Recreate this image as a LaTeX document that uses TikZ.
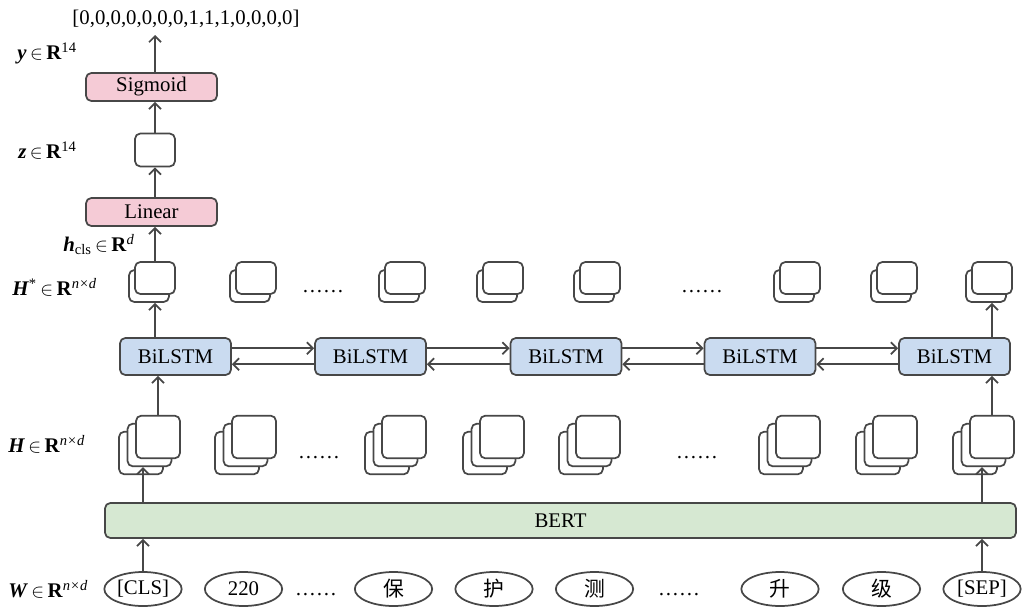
\documentclass[tikz,border=0pt]{standalone}
\usepackage{fontspec}
\setmainfont{Liberation Serif}
\newfontfamily\cjk{Noto Sans CJK SC}
\usetikzlibrary{arrows.meta,shapes.geometric,calc}
\definecolor{edgec}{HTML}{474747}
\definecolor{pinkc}{HTML}{F5CBD6}
\definecolor{bluec}{HTML}{CADBF0}
\definecolor{greenc}{HTML}{D6E8D2}
\newcommand{\vecin}{\,$\in$\,}
\begin{document}
\begin{tikzpicture}[x=0.75pt,y=-0.75pt,
  font=\fontsize{15.6}{18}\selectfont,
  line/.style={draw=edgec,line width=1.3pt},
  arr/.style={line,-{Straight Barb[length=4.5pt,width=9pt,line width=1.3pt]}},
  box/.style={line,rounded corners=4pt,inner sep=0pt,align=center},
  opbox/.style={box,fill=pinkc,minimum width=98.25pt,minimum height=21pt},
  lstm/.style={box,fill=bluec,minimum width=83.25pt,minimum height=27.75pt},
  cell/.style={box,fill=white,minimum width=30pt,minimum height=24pt},
  hcell/.style={box,fill=white,minimum width=33pt,minimum height=32pt},
  tok/.style={line,ellipse,inner sep=0pt,minimum width=58pt,minimum height=25.5pt},
  lab/.style={anchor=base west,inner sep=0pt},
  dots/.style={anchor=base,inner sep=0pt}]
\useasboundingbox (0,0) rectangle (1024,607);

% output head
\node[anchor=base,inner sep=0pt] (res) at (186,24) {[0,0,0,0,0,0,0,1,1,1,0,0,0,0]};
\coordinate (tip) at (155,35);
\node[opbox] (sig) at (151.5,87) {Sigmoid};
\node[box,fill=white,minimum width=30pt,minimum height=24.75pt] (z) at (155,150) {};
\node[opbox] (lin) at (151.5,212) {Linear};

% BiLSTM outputs H*
\foreach \i/\x in {1/155,2/256,3/405,4/503,5/600,6/800,7/897,8/992}{
  \node[cell] (hsb\i) at (\x-6,286) {};
  \node[cell] (hs\i) at (\x,278) {};
}
% BERT outputs H
\foreach \i/\x in {1/158,2/254,3/404,4/502,5/598,6/798,7/895,8/992}{
  \node[hcell] (hb\i) at (\x-17,453) {};
  \node[hcell] (hm\i) at (\x-8.5,445) {};
  \node[hcell] (h\i) at (\x,437) {};
}

% BiLSTM chain
\foreach \i/\x in {1/175.5,2/370.5,3/566,4/760,5/954.5}{
  \node[lstm] (b\i) at (\x,356.5) {BiLSTM};
}
\foreach \i/\j in {1/2,2/3,3/4,4/5}{
  \draw[arr] ([yshift=6.2pt]b\i.east) -- ([yshift=6.2pt]b\j.west);
  \draw[arr] ([yshift=-5.8pt]b\j.west) -- ([yshift=-5.8pt]b\i.east);
}

% BERT encoder
\node[box,fill=greenc,minimum width=683.25pt,minimum height=26.25pt] (bert) at (560.5,520.5) {BERT};

% input tokens
\node[tok] (cls) at (143,589) {[CLS]};
\node[tok] (t220) at (243.5,589) {220};
\node[tok] (bao) at (393.5,589) {\cjk 保};
\node[tok] (hu) at (494,589) {\cjk 护};
\node[tok] (ce) at (594.5,589) {\cjk 测};
\node[tok] (sheng) at (780,589) {\cjk 升};
\node[tok] (ji) at (881.5,589) {\cjk 级};
\node[tok] (sep) at (982,589) {[SEP]};

% ellipsis marks
\node[dots] (d1) at (316,595) {……};
\node[dots] (d2) at (679,595) {……};
\node[dots] (d3) at (319,458) {……};
\node[dots] (d4) at (697,458) {……};
\node[dots] (d5) at (323,292) {……};
\node[dots] (d6) at (702,292) {……};

% connectors
\draw[arr] (sig.north -| z) -- (tip);
\draw[arr] (z.north) -- (z.north |- sig.south);
\draw[arr] (lin.north -| z) -- (z.south);
\draw[arr] (hs1.north) -- (hs1.north |- lin.south);
\draw[arr] (b1.north -| hs1) -- (hs1 |- hsb1.south);
\draw[arr] (h1.north) -- (h1.north |- b1.south);
\draw[arr] (b5.north -| hs8) -- (hs8 |- hsb8.south);
\draw[arr] (h8.north) -- (h8.north |- b5.south);
\draw[arr] (cls.north) -- (cls.north |- bert.south);
\draw[arr] (bert.north -| cls) -- (cls |- hm1.south);
\draw[arr] (sep.north) -- (sep.north |- bert.south);
\draw[arr] (bert.north -| sep) -- (sep |- hm8.south);

% dimension labels
\node[lab] (ly) at (17,59) {\textbf{\textit{y}}\vecin\textbf{R}\textsuperscript{14}};
\node[lab] (lz) at (18,158) {\textbf{\textit{z}}\vecin\textbf{R}\textsuperscript{14}};
\node[lab] (lh) at (63,251) {\textbf{\textit{h}}\textsubscript{cls}\vecin\textbf{R}\textsuperscript{\itshape d}};
\node[lab] (lhs) at (12,295) {\textbf{\textit{H}}\textsuperscript{*}\vecin\textbf{R}\textsuperscript{\itshape n×d}};
\node[lab] (lhh) at (8,452) {\textbf{\textit{H}}\vecin\textbf{R}\textsuperscript{\itshape n×d}};
\node[lab] (lw) at (8,597) {\textbf{\textit{W}}\vecin\textbf{R}\textsuperscript{\itshape n×d}};
\end{tikzpicture}
\end{document}
